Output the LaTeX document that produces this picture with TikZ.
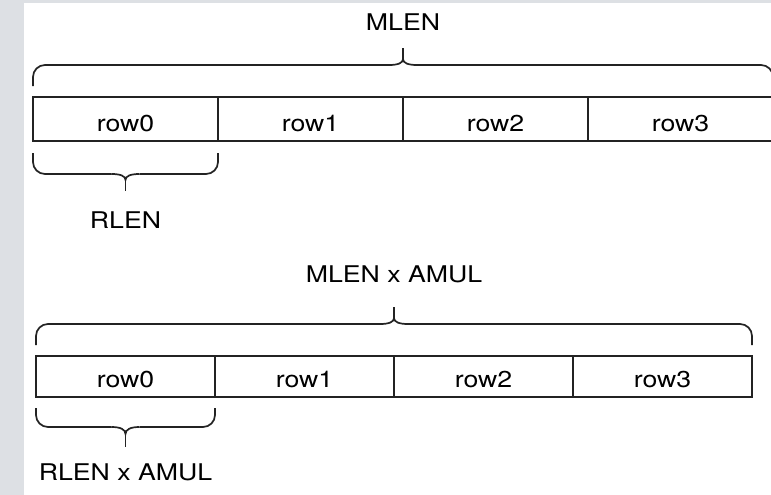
\documentclass[tikz,border=0pt]{standalone}
\usepackage{fontspec}
\setmainfont[FakeStretch=1.16]{TeX Gyre Heros}
\usetikzlibrary{positioning, calc}
\definecolor{pagegray}{RGB}{221, 224, 228}
\definecolor{inkgray}{RGB}{35, 35, 35}

\tikzset{
  cell/.style={draw=inkgray, line width=1.7pt, inner sep=0pt, outer sep=0pt,
    font=\fontsize{23}{28}\selectfont, text depth=0pt},
  topcell/.style={cell, minimum width=185pt, minimum height=44pt, text height=24pt},
  lowcell/.style={cell, minimum width=179pt, minimum height=41pt, text height=21pt},
  lenlabel/.style={font=\fontsize{23}{28}\selectfont, anchor=base, inner sep=0pt},
  lenbrace/.style={draw=inkgray, line width=1.7pt},
}

% brace: x1, x2, y of the ends, y of the bar, y of the tip
\newcommand{\lenbrace}[5]{%
  \pgfmathsetmacro{\bxm}{(#1+#2)/2}
  \pgfmathsetmacro{\bmid}{#4+0.35*(#5-#4)}
  \pgfmathsetmacro{\bctl}{#4+0.12*(#5-#4)}
  \draw[lenbrace, rounded corners=12pt] (#1,#3) -- (#1,#4) -- (\bxm-14,#4);
  \draw[lenbrace, rounded corners=12pt] (#2,#3) -- (#2,#4) -- (\bxm+14,#4);
  \draw[lenbrace] (\bxm-14,#4) .. controls (\bxm-5,#4) and (\bxm,\bctl) .. (\bxm,\bmid)
    .. controls (\bxm,\bctl) and (\bxm+5,#4) .. (\bxm+14,#4);
  \draw[lenbrace] (\bxm,\bmid) -- (\bxm,#5);
}

\begin{document}
\begin{tikzpicture}[x=1pt, y=-1pt]
  \useasboundingbox (0,0) rectangle (771,495);
  % page edge of the screenshot
  \fill[pagegray] (0,0) rectangle (24,495);
  \fill[pagegray] (0,0) rectangle (771,3);

  % one matrix: MLEN
  \node[topcell] (m0) at (125.5,119) {row0};
  \node[topcell, right=0pt of m0] (m1) {row1};
  \node[topcell, right=0pt of m1] (m2) {row2};
  \node[topcell, right=0pt of m2] (m3) {row3};
  \lenbrace{33}{773}{86}{65}{48}
  \node[lenlabel] (mlen) at (403,31) {MLEN};
  \lenbrace{33}{218}{153}{174}{191}
  \node[lenlabel] (rlen) at (125.5,228) {RLEN};

  % same rows, stretched by AMUL
  \node[lowcell] (a0) at (125.5,376.5) {row0};
  \node[lowcell, right=0pt of a0] (a1) {row1};
  \node[lowcell, right=0pt of a1] (a2) {row2};
  \node[lowcell, right=0pt of a2] (a3) {row3};
  \lenbrace{36}{752}{345}{324}{307}
  \node[lenlabel] (mlenamul) at (394,282) {MLEN x AMUL};
  \lenbrace{36}{215}{408}{427}{447}
  \node[lenlabel] (rlenamul) at (125.5,480) {RLEN x AMUL};
\end{tikzpicture}
\end{document}
